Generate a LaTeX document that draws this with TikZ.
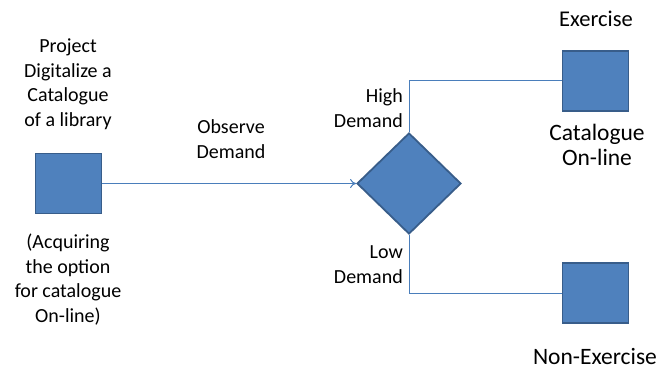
\documentclass[tikz,border=0pt]{standalone}
\usepackage{fontspec}
\setmainfont{Carlito}
\usetikzlibrary{shapes.geometric,arrows.meta}
\definecolor{boxfill}{HTML}{4F81BD}
\definecolor{boxedge}{HTML}{385D8A}
\definecolor{wire}{HTML}{4A7EBB}
\tikzset{
  block/.style={draw=boxedge, fill=boxfill, line width=1.8pt, minimum width=66pt, minimum height=60pt, inner sep=0pt},
  choice/.style={diamond, draw=boxedge, fill=boxfill, line width=1.8pt, minimum width=104pt, minimum height=101pt, inner sep=0pt},
  wireline/.style={draw=wire, line width=1pt},
  lbl/.style={font=\fontsize{20}{24.5}\selectfont, inner sep=0pt, align=center, anchor=base},
  biglbl/.style={font=\fontsize{23.5}{25}\selectfont, inner sep=0pt, align=center, anchor=base},
}
\begin{document}
\begin{tikzpicture}[x=1pt, y=-1pt]
  \useasboundingbox (0,0) rectangle (659,369);

  % nodes
  \node[block] (src) at (68.5,183.5) {};
  \node[choice] (dec) at (409,183.5) {};
  \node[block] (ex) at (595.5,81) {};
  \node[block] (nex) at (595.5,293) {};

  % connectors
  \draw[wireline, -{To[length=6pt,width=9pt]}] (src.east) -- (dec.west);
  \draw[wireline] (dec.north) |- (ex.west);
  \draw[wireline] (dec.south) |- (nex.west);

  % labels (anchored on the baseline of their last line)
  \node[lbl] (t1) at (68,126) {Project\\Digitalize a\\Catalogue\\of a library};
  \node[lbl] (t2) at (68,322) {(Acquiring\\the option\\for catalogue\\On-line)};
  \node[lbl] (t3) at (231,158) {Observe\\Demand};
  \node[lbl, align=right, anchor=base east] (t4) at (403,127) {High\\Demand};
  \node[lbl, align=right, anchor=base east] (t5) at (403,283) {Low\\Demand};
  \node[lbl, font=\fontsize{22.5}{25}\selectfont] (t6) at (596,27) {Exercise};
  \node[biglbl] (t7) at (597,165) {Catalogue\\On-line};
  \node[biglbl] (t8) at (595,364) {Non-Exercise};
\end{tikzpicture}
\end{document}
